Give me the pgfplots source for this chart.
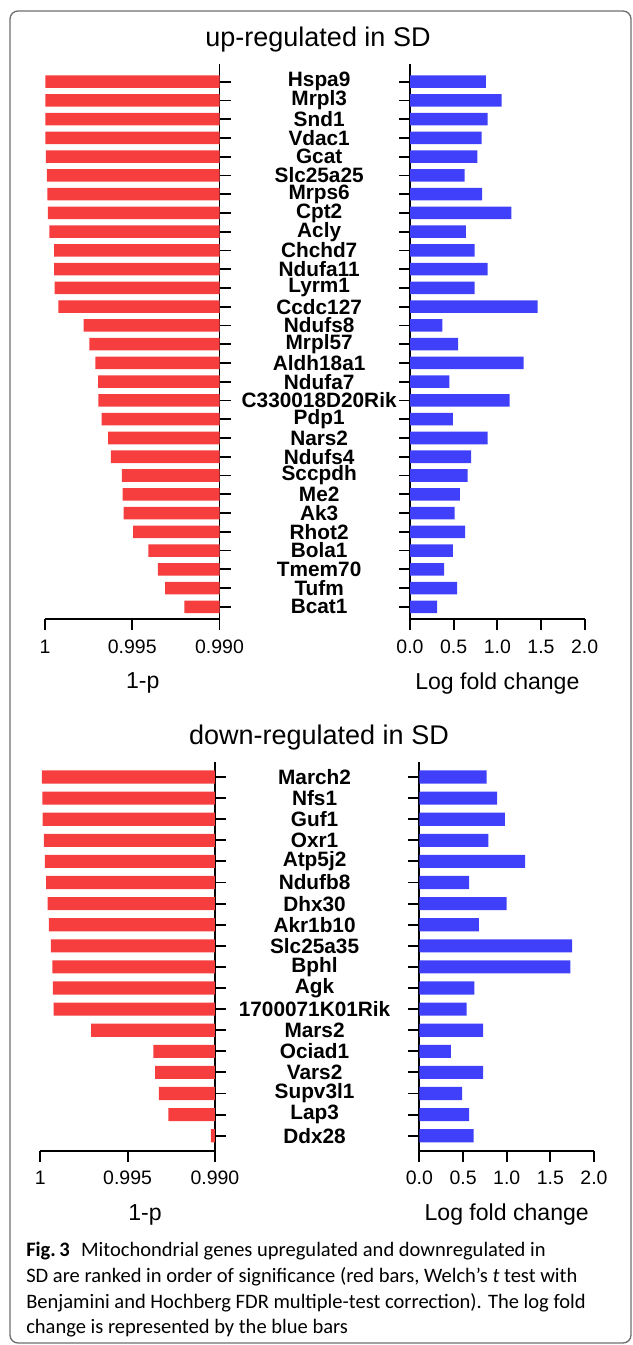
\documentclass[border=0pt]{standalone}
\usepackage{fontspec}
\setmainfont{Liberation Sans}
\newfontfamily\capfont{Carlito}
\usepackage{pgfplots}
\usepackage{pgfplotstable}
\pgfplotsset{compat=1.18}
\definecolor{barred}{RGB}{247,62,62}
\definecolor{barblue}{RGB}{64,64,250}
\definecolor{framegray}{RGB}{110,110,110}

\pgfplotstableread{
gene v lfc
Hspa9 0.99998 0.87
Mrpl3 0.99998 1.05
Snd1 0.99998 0.89
Vdac1 0.99998 0.82
Gcat 0.99995 0.77
Slc25a25 0.99989 0.625
Mrps6 0.99986 0.825
Cpt2 0.99984 1.16
Acly 0.99975 0.64
Chchd7 0.99947 0.74
Ndufa11 0.99947 0.89
Lyrm1 0.99945 0.74
Ccdc127 0.99924 1.46
Ndufs8 0.99779 0.37
Mrpl57 0.99745 0.55
Aldh18a1 0.99712 1.30
Ndufa7 0.99696 0.45
C330018D20Rik 0.99694 1.14
Pdp1 0.99675 0.49
Nars2 0.99638 0.89
Ndufs4 0.99622 0.70
Sccpdh 0.99560 0.66
Me2 0.99555 0.57
Ak3 0.99549 0.51
Rhot2 0.99495 0.63
Bola1 0.99408 0.49
Tmem70 0.99353 0.39
Tufm 0.99311 0.54
Bcat1 0.99201 0.31
}\topdata

\pgfplotstableread{
gene v lfc
March2 0.99991 0.77
Nfs1 0.99988 0.89
Guf1 0.99987 0.98
Oxr1 0.99979 0.79
Atp5j2 0.99974 1.21
Ndufb8 0.99967 0.57
Dhx30 0.99958 1.00
Akr1b10 0.99951 0.68
Slc25a35 0.99940 1.75
Bphl 0.99931 1.73
Agk 0.99928 0.63
1700071K01Rik 0.99924 0.54
Mars2 0.99709 0.73
Ociad1 0.99353 0.36
Vars2 0.99342 0.73
Supv3l1 0.99321 0.49
Lap3 0.99266 0.57
Ddx28 0.99023 0.62
}\botdata

\pgfplotsset{
  panel/.style={
    scale only axis, xbar, enlargelimits=false, y dir=reverse,
    scaled x ticks=false,
    axis line style={line width=1.4pt, black},
    tick style={line width=1.4pt, black},
    major tick length=8.25pt, tick align=outside,
    axis x line*=bottom,
    xticklabel style={font=\fontsize{14.6}{14.6}\selectfont, anchor=center, yshift=-12.25pt},
    xlabel style={font=\fontsize{17.3}{17.3}\selectfont, anchor=center, yshift=-48pt},
  },
  redpanel/.style={
    panel, axis y line*=right,
    xmin=-0.01, xmax=0,
    xtick={-0.01,-0.005,0}, xticklabels={1,0.995,0.990},
    yticklabel style={font=\fontsize{15.6}{15.6}\selectfont\bfseries, anchor=center, xshift=66.5pt},
    xlabel={1-p},
  },
  bluepanel/.style={
    panel, axis y line*=left,
    xmin=0, xmax=2,
    xtick={0,0.5,1,1.5,2}, xticklabels={0.0,0.5,1.0,1.5,2.0},
    yticklabels={,,},
    xlabel={Log fold change},
    xlabel style={at={(axis description cs:0.5,0)}},
  },
}

\begin{document}
\begin{tikzpicture}
\begin{scope}[x=0.75pt, y=-0.75pt]
\useasboundingbox (0,0) rectangle (632,1345);
\draw[framegray, line width=1pt, rounded corners=6pt] (10,11) rectangle (631,1343);
\node[anchor=base, inner sep=0, font=\fontsize{20.25}{20.25}\selectfont] at (318,46.7) {up-regulated in SD};
\node[anchor=base, inner sep=0, font=\fontsize{20.25}{20.25}\selectfont] at (319,744.3) {down-regulated in SD};
\end{scope}

% ---------- top panel ----------
\begin{axis}[redpanel, at={(99.1875pt,-256.24pt)}, anchor=center,
  width=130.875pt, height=416.5pt,
  ymin=-0.944, ymax=28.67, ytick={0,...,28},
  yticklabels from table={\topdata}{gene},
  bar width=0.667,
  xlabel style={at={(axis description cs:0.56,0)}}]
\addplot[fill=barred, draw=none] table[x expr=0.99-\thisrow{v}, y expr=\coordindex] {\topdata};
\end{axis}

\begin{axis}[bluepanel, at={(373.01pt,-256.24pt)}, anchor=center,
  width=131pt, height=416.5pt,
  ymin=-0.944, ymax=28.67, ytick={0,...,28},
  bar width=0.667]
\addplot[fill=barblue, draw=none] table[x=lfc, y expr=\coordindex] {\topdata};
\end{axis}

% ---------- bottom panel ----------
\begin{axis}[redpanel, at={(95.7pt,-717.26pt)}, anchor=center,
  width=130.95pt, height=291.5pt,
  ymin=-0.71, ymax=17.71, ytick={0,...,17},
  yticklabels from table={\botdata}{gene},
  bar width=0.62,
  xlabel style={at={(axis description cs:0.60,0)}}]
\addplot[fill=barred, draw=none] table[x expr=0.99-\thisrow{v}, y expr=\coordindex] {\botdata};
\end{axis}

\begin{axis}[bluepanel, at={(380.03pt,-717.26pt)}, anchor=center,
  width=130.95pt, height=291.5pt,
  ymin=-0.71, ymax=17.71, ytick={0,...,17},
  bar width=0.62]
\addplot[fill=barblue, draw=none] table[x=lfc, y expr=\coordindex] {\botdata};
\end{axis}

% ---------- caption ----------
\begin{scope}[x=0.75pt, y=-0.75pt, every node/.style={anchor=base west, inner sep=0, font=\capfont\fontsize{15.4}{15.4}\selectfont}]
\node at (26,1256) {\textbf{Fig.\,3}\hspace{0.55em}Mitochondrial genes upregulated and downregulated in};
\node at (26,1282) {SD are ranked in order of significance (red bars, Welch’s \textit{t} test with};
\node at (26,1308) {Benjamini and Hochberg FDR multiple-test correction). The log fold};
\node at (26,1333) {change is represented by the blue bars};
\end{scope}
\end{tikzpicture}
\end{document}
